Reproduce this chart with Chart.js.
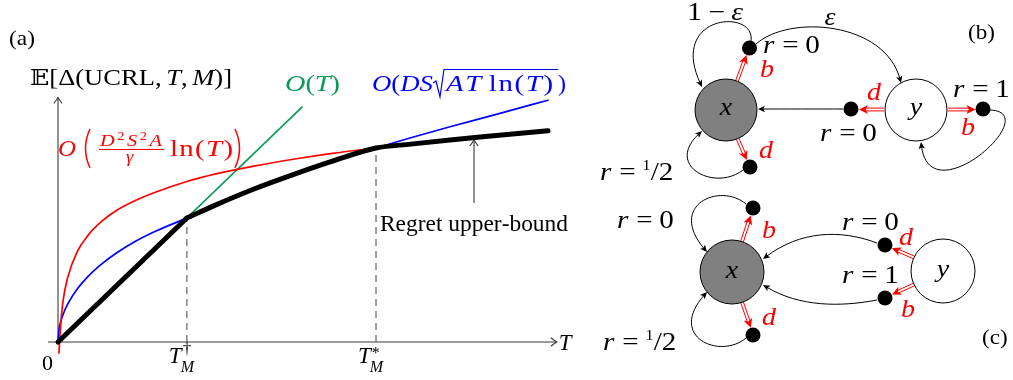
<!DOCTYPE html>
<html><head><meta charset="utf-8">
<script src="https://cdn.jsdelivr.net/npm/chart.js@4.4.0/dist/chart.umd.min.js"></script>
<style>html,body{margin:0;padding:0;background:#fff;overflow:hidden}canvas{display:block}</style>
</head><body>
<canvas id="c" width="1013" height="380"></canvas>
<script>
// ===== Panel (a): regret curves (abstract units: T 0..100, value 0..100) =====
const T_curve      = [0, 0.2, 0.5, 1, 2, 4, 6, 9, 12, 16, 20, 26.3, 32, 40, 48, 56, 64.9, 72, 80, 90, 100];
const blueValues   = [0, 5.0, 7.9, 11.1, 15.6, 21.9, 26.6, 32.1, 36.6, 41.5, 45.5, 50.8, 56.0, 62.7, 68.6, 74.1, 79.5, 83.7, 88.2, 93.6, 99.1];
const T_red        = [0.2, 0.5, 1, 2, 4, 6, 9, 12, 16, 20, 26.3, 32, 40, 48, 56, 64.9];
const redValues    = [-4.5, 5.7, 16.4, 26.6, 37.3, 43.4, 49.6, 54.0, 58.2, 61.5, 65.8, 68.8, 72.1, 74.9, 77.3, 79.5];
const T_green      = [0, 49.8];
const greenValues  = [0, 96.3];
const T_regretLin  = [0, 26.3];
const regretLin    = [0, 50.8];
const T_regretCurv = [26.3, 32, 40, 48, 56, 64.9, 72, 80, 90, 100];
const regretCurv   = [50.8, 56.0, 62.7, 68.6, 74.1, 79.5, 81.1, 82.8, 84.7, 86.6];
const T_dagger = 26.3, T_star = 64.9;
const axisT = [-2.04, 101.8];
const axisV = [0, 100.2];
const annotT = 84.9, annotV = [57.0, 82.8];

// ===== Panels (b) and (c): MDP diagrams (diagram units) =====
const nodeB_x = [726, 916], nodeB_y = [110, 110];
const dotB_x  = [749.5, 750, 851, 983], dotB_y = [48, 167, 109, 109];
const nodeC_x = [732, 943], nodeC_y = [272, 271];
const dotC_x  = [753, 753, 885, 885], dotC_y = [208, 335, 245, 298];
const redArrows = [
  [737, 81, 746.5, 55], [737.6, 138.7, 746.8, 160], [884, 109.5, 859, 109.5], [948, 109.5, 975.5, 109.5],
  [742, 241.6, 750.7, 215.5], [742.1, 302.4, 750.8, 327.8], [914, 257.5, 892, 248], [914, 284.5, 892, 294.5]
];
const blackCurves = [
  [751, 41, 756, 8, 668, 14, 702, 87],
  [756, 44, 790, 14, 885, 22, 901, 83],
  [843, 109, 815, 109, 785, 109, 758, 109],
  [990, 110, 1046, 112, 930, 216, 921, 142],
  [743, 170, 715, 192, 664, 166, 702, 131],
  [746, 204, 720, 182, 667, 205, 707, 252],
  [746, 338, 720, 360, 667, 337, 707, 292],
  [877, 243, 840, 229, 800, 231, 763, 259],
  [877, 300, 840, 307, 800, 307, 763, 285]
];

const SERIF = "'Liberation Serif','Times New Roman',serif";
const IT = s => `italic ${s}px ${SERIF}`;
const RM = s => `${s}px ${SERIF}`;
const RED = '#ff0000', BLUE = '#0000ff', GREEN = '#0a9a58';

// draw a list of text segments; k = horizontal scale, ls = extra spacing after each glyph
function segs(ctx, x, y, list, k, ls) {
  k = k || 1; ls = ls || 0; let cx = x;
  for (const s of list) {
    if (s.gap !== undefined) { cx += s.gap * k; continue; }
    ctx.font = s.f; ctx.fillStyle = s.c || '#000';
    for (const ch of Array.from(s.t)) {
      const w = ctx.measureText(ch).width;
      ctx.save(); ctx.translate(cx, y + (s.dy || 0)); ctx.scale(k, 1); ctx.fillText(ch, 0, 0); ctx.restore();
      cx += w * k + ls;
    }
  }
  return cx - ls;
}
function segsWidth(ctx, list) {
  let w = 0, n = 0;
  for (const s of list) {
    if (s.gap !== undefined) { w += s.gap; continue; }
    ctx.font = s.f;
    for (const ch of Array.from(s.t)) { w += ctx.measureText(ch).width; n++; }
  }
  return [w, n];
}
function fit(ctx, x, y, list, target, kmax) {
  const [w, n] = segsWidth(ctx, list);
  const k = Math.min(Math.max(target / w, 0.85), kmax || 1.2);
  const ls = n > 1 ? (target - w * k) / (n - 1) : 0;
  return segs(ctx, x, y, list, k, ls);
}
function openHead(ctx, x, y, ux, uy, len) {
  const nx = -uy, ny = ux; len = len || 6;
  ctx.beginPath();
  ctx.moveTo(x - ux * len + nx * len * 0.7, y - uy * len + ny * len * 0.7);
  ctx.quadraticCurveTo(x - ux * len * 0.3 + nx * 1, y - uy * len * 0.3 + ny * 1, x, y);
  ctx.quadraticCurveTo(x - ux * len * 0.3 - nx * 1, y - uy * len * 0.3 - ny * 1, x - ux * len - nx * len * 0.7, y - uy * len - ny * len * 0.7);
  ctx.stroke();
}
function filledHead(ctx, x, y, ux, uy, len, hw, color) {
  const nx = -uy, ny = ux;
  ctx.fillStyle = color; ctx.beginPath();
  ctx.moveTo(x, y);
  ctx.lineTo(x - ux * len + nx * hw, y - uy * len + ny * hw);
  ctx.lineTo(x - ux * len * 0.75, y - uy * len * 0.75);
  ctx.lineTo(x - ux * len - nx * hw, y - uy * len - ny * hw);
  ctx.closePath(); ctx.fill();
}
function bigParen(ctx, x, top, bot, open, color) {
  ctx.strokeStyle = color; ctx.lineWidth = 1.5; ctx.beginPath();
  const m = (top + bot) / 2;
  if (open) { ctx.moveTo(x + 6, top); ctx.quadraticCurveTo(x - 3, m, x + 6, bot); }
  else { ctx.moveTo(x, top); ctx.quadraticCurveTo(x + 9, m, x, bot); }
  ctx.stroke();
}

const drawPlugin = {
  id: 'drawPlugin',
  beforeDatasetsDraw(chart) {
    const ctx = chart.ctx, X = chart.scales.x, Y = chart.scales.y, DX = chart.scales.dx, DY = chart.scales.dy;
    ctx.save();
    ctx.strokeStyle = '#3a3a3a'; ctx.lineWidth = 1.1;
    const x0 = X.getPixelForValue(axisT[0]), x1 = X.getPixelForValue(axisT[1]), yb = Y.getPixelForValue(0);
    const xa = X.getPixelForValue(0), yt = Y.getPixelForValue(axisV[1]);
    ctx.beginPath(); ctx.moveTo(x0, yb); ctx.lineTo(x1, yb); ctx.stroke();
    ctx.beginPath(); ctx.moveTo(xa, yb); ctx.lineTo(xa, yt); ctx.stroke();
    openHead(ctx, x1, yb, 1, 0, 6); openHead(ctx, xa, yt, 0, -1, 6);
    ctx.strokeStyle = '#555'; ctx.lineWidth = 1.1; ctx.setLineDash([7, 5]);
    for (const [t, v] of [[T_dagger, regretLin[1]], [T_star, regretCurv[5]]]) {
      ctx.beginPath(); ctx.moveTo(X.getPixelForValue(t), yb); ctx.lineTo(X.getPixelForValue(t), Y.getPixelForValue(v)); ctx.stroke();
    }
    ctx.setLineDash([]);
    ctx.strokeStyle = '#000'; ctx.lineWidth = 1;
    for (const c of blackCurves) {
      const p = []; for (let i = 0; i < 8; i += 2) p.push([DX.getPixelForValue(c[i]), DY.getPixelForValue(c[i + 1])]);
      const dx = p[3][0] - p[2][0], dy = p[3][1] - p[2][1], L = Math.hypot(dx, dy), ux = dx / L, uy = dy / L;
      ctx.beginPath(); ctx.moveTo(p[0][0], p[0][1]);
      ctx.bezierCurveTo(p[1][0], p[1][1], p[2][0], p[2][1], p[3][0] - ux * 4, p[3][1] - uy * 4); ctx.stroke();
      filledHead(ctx, p[3][0], p[3][1], ux, uy, 7, 3.2, '#000');
    }
    for (const a of redArrows) {
      const sx = DX.getPixelForValue(a[0]), sy = DY.getPixelForValue(a[1]), ex = DX.getPixelForValue(a[2]), ey = DY.getPixelForValue(a[3]);
      const dx = ex - sx, dy = ey - sy, L = Math.hypot(dx, dy), ux = dx / L, uy = dy / L, nx = -uy, ny = ux;
      ctx.strokeStyle = RED; ctx.lineWidth = 1;
      for (const s of [-1.4, 1.4]) {
        ctx.beginPath(); ctx.moveTo(sx + nx * s, sy + ny * s); ctx.lineTo(ex - ux * 6 + nx * s, ey - uy * 6 + ny * s); ctx.stroke();
      }
      filledHead(ctx, ex, ey, ux, uy, 9, 4.5, RED);
    }
    ctx.restore();
  },
  afterDatasetsDraw(chart) {
    const ctx = chart.ctx, X = chart.scales.x, Y = chart.scales.y, DX = chart.scales.dx, DY = chart.scales.dy;
    ctx.save(); ctx.textBaseline = 'alphabetic';
    ctx.strokeStyle = '#3a3a3a'; ctx.lineWidth = 1.1;
    const ax = X.getPixelForValue(annotT), ay0 = Y.getPixelForValue(annotV[0]), ay1 = Y.getPixelForValue(annotV[1]);
    ctx.beginPath(); ctx.moveTo(ax, ay0); ctx.lineTo(ax, ay1); ctx.stroke(); openHead(ctx, ax, ay1, 0, -1, 6);

    fit(ctx, 9, 45, [{t: '(a)', f: RM(21)}], 26);
    fit(ctx, 30, 85, [{t: '\u{1D53C}', f: `22px 'DejaVu Serif',serif`}, {t: '[\u0394(UCRL,', f: RM(23)}, {gap: 4}, {t: 'T', f: IT(23)}, {t: ',', f: RM(23)}, {gap: 4}, {t: 'M', f: IT(23)}, {t: ')]', f: RM(23)}], 202);
    fit(ctx, 285, 91, [{t: 'O', f: IT(24), c: GREEN}, {t: '(', f: RM(24), c: GREEN}, {t: 'T', f: IT(24), c: GREEN}, {t: ')', f: RM(24), c: GREEN}], 55);
    // blue label with square root
    fit(ctx, 372, 91, [{t: 'O', f: IT(24), c: BLUE}, {t: '(', f: RM(24), c: BLUE}, {t: 'DS', f: IT(24), c: BLUE}], 61);
    fit(ctx, 446, 91, [{t: 'AT', f: IT(24), c: BLUE}, {gap: 5}, {t: 'ln(', f: RM(24), c: BLUE}, {t: 'T', f: IT(24), c: BLUE}, {t: ')', f: RM(24), c: BLUE}], 107);
    ctx.strokeStyle = BLUE; ctx.lineWidth = 1.2;
    ctx.beginPath(); ctx.moveTo(433, 83); ctx.lineTo(436, 81); ctx.lineTo(440, 97); ctx.lineTo(444, 69.5); ctx.lineTo(558, 69.5); ctx.stroke();
    fit(ctx, 558, 91, [{t: ')', f: RM(24), c: BLUE}], 8);
    // red label
    fit(ctx, 58, 156, [{t: 'O', f: IT(24), c: RED}], 18);
    bigParen(ctx, 84, 129, 168, true, RED);
    const num = [{t: 'D', f: IT(17), c: RED}, {t: '2', f: RM(12), c: RED, dy: -6}, {t: 'S', f: IT(17), c: RED}, {t: '2', f: RM(12), c: RED, dy: -6}, {t: 'A', f: IT(17), c: RED}];
    fit(ctx, 100, 146, num, 62);
    ctx.strokeStyle = RED; ctx.lineWidth = 1; ctx.beginPath(); ctx.moveTo(99, 149.5); ctx.lineTo(164, 149.5); ctx.stroke();
    segs(ctx, 126, 162, [{t: '\u03B3', f: IT(17), c: RED}], 1.1);
    fit(ctx, 170, 156, [{t: 'ln(', f: RM(24), c: RED}, {t: 'T', f: IT(24), c: RED}, {t: ')', f: RM(24), c: RED}], 63);
    bigParen(ctx, 235, 129, 168, false, RED);
    fit(ctx, 380, 231, [{t: 'Regret upper-bound', f: RM(23)}], 188);
    fit(ctx, 42, 370, [{t: '0', f: RM(22)}], 11);
    for (const [t, sup] of [[T_dagger, '\u2020'], [T_star, '*']]) {
      const xp = X.getPixelForValue(t);
      ctx.font = IT(23); ctx.fillStyle = '#000';
      ctx.fillText('T', xp - 18, 363);
      const e = xp - 18 + ctx.measureText('T').width;
      ctx.font = IT(16); ctx.fillText('M', e - 1, 372);
      ctx.font = RM(sup === '*' ? 16 : 17); ctx.fillText(sup, e + 1, sup === '*' ? 358 : 354);
    }
    ctx.font = IT(23); ctx.fillStyle = '#000'; ctx.fillText('T', X.getPixelForValue(axisT[1]) + 2, 350);

    const K = 1.12;
    const rEq = v => [{t: 'r', f: IT(26)}, {gap: 7}, {t: '=', f: RM(26)}, {gap: 6}].concat(v);
    const half = [{t: '1', f: RM(15), dy: -10}, {t: '/', f: RM(26)}, {t: '2', f: RM(26)}];
    const put = (x, y, list, k) => segs(ctx, DX.getPixelForValue(x), DY.getPixelForValue(y), list, k || K);
    const center = (x, y, list) => { const [w] = segsWidth(ctx, list); segs(ctx, DX.getPixelForValue(x) - w * K / 2, DY.getPixelForValue(y), list, K); };
    fit(ctx, DX.getPixelForValue(687), DY.getPixelForValue(20), [{t: '1', f: RM(25)}, {gap: 5}, {t: '\u2212', f: RM(25)}, {gap: 5}, {t: '\u03B5', f: IT(25)}], 56);
    center(830, 25, [{t: '\u03B5', f: IT(25)}]);
    put(763, 53, rEq([{t: '0', f: RM(26)}]));
    put(760, 77, [{t: 'b', f: IT(25), c: RED}]);
    put(968, 39, [{t: '(b)', f: RM(22)}], 1.05);
    put(867, 100, [{t: 'd', f: IT(25), c: RED}]);
    put(953, 97, rEq([{t: '1', f: RM(26)}]));
    put(820, 141, rEq([{t: '0', f: RM(26)}]));
    put(961, 135, [{t: 'b', f: IT(25), c: RED}]);
    put(759, 158, [{t: 'd', f: IT(25), c: RED}]);
    put(600, 180, rEq(half));
    center(nodeB_x[0], 115, [{t: 'x', f: IT(25)}]);
    center(nodeB_x[1], 115, [{t: 'y', f: IT(25)}]);
    put(617, 228, rEq([{t: '0', f: RM(26)}]));
    put(762, 238, [{t: 'b', f: IT(25), c: RED}]);
    put(842, 230, rEq([{t: '0', f: RM(26)}]));
    put(899, 245, [{t: 'd', f: IT(25), c: RED}]);
    put(842, 283, rEq([{t: '1', f: RM(26)}]));
    put(901, 317, [{t: 'b', f: IT(25), c: RED}]);
    put(762, 325, [{t: 'd', f: IT(25), c: RED}]);
    put(603, 350, rEq(half));
    put(982, 344, [{t: '(c)', f: RM(22)}], 1.05);
    center(nodeC_x[0], 278, [{t: 'x', f: IT(25)}]);
    center(nodeC_x[1], 277, [{t: 'y', f: IT(25)}]);
    ctx.restore();
  }
};

const pts = (xs, ys) => xs.map((x, i) => ({x: x, y: ys[i]}));
const lineDs = (xs, ys, color, width, order, mode) => ({
  data: pts(xs, ys), showLine: true, borderColor: color, borderWidth: width, pointRadius: 0,
  cubicInterpolationMode: mode || 'monotone', fill: false, xAxisID: 'x', yAxisID: 'y', order: order,
  borderCapStyle: 'round', borderJoinStyle: 'round'
});

new Chart(document.getElementById('c'), {
  type: 'scatter',
  data: {datasets: [
    lineDs(T_regretLin, regretLin, '#000', 5, 0, 'default'),
    lineDs(T_regretCurv, regretCurv, '#000', 5, 0),
    lineDs(T_red, redValues, RED, 1.7, 1),
    lineDs(T_curve, blueValues, BLUE, 1.7, 2),
    lineDs(T_green, greenValues, GREEN, 1.7, 3, 'default'),
    {data: pts(nodeB_x, nodeB_y), xAxisID: 'dx', yAxisID: 'dy', pointRadius: 31, pointBackgroundColor: ['#808080', '#ffffff'], pointBorderColor: '#000', pointBorderWidth: 1, order: 5},
    {data: pts(nodeC_x, nodeC_y), xAxisID: 'dx', yAxisID: 'dy', pointRadius: 32, pointBackgroundColor: ['#808080', '#ffffff'], pointBorderColor: '#000', pointBorderWidth: 1, order: 5},
    {data: pts(dotB_x, dotB_y).concat(pts(dotC_x, dotC_y)), xAxisID: 'dx', yAxisID: 'dy', pointRadius: 7.5, pointBackgroundColor: '#000', pointBorderColor: '#000', pointBorderWidth: 0, order: 4}
  ]},
  options: {
    responsive: false, animation: false, devicePixelRatio: 1, events: [],
    layout: {padding: 0, autoPadding: false},
    plugins: {legend: {display: false}, tooltip: {enabled: false}},
    scales: {
      x: {type: 'linear', display: false, min: -58 / 4.9, max: (1013 - 58) / 4.9},
      y: {type: 'linear', display: false, min: -(380 - 342) / 2.44, max: 342 / 2.44},
      dx: {type: 'linear', display: false, min: 0, max: 1013},
      dy: {type: 'linear', display: false, min: 0, max: 380, reverse: true}
    }
  },
  plugins: [drawPlugin]
});
</script>
</body></html>
